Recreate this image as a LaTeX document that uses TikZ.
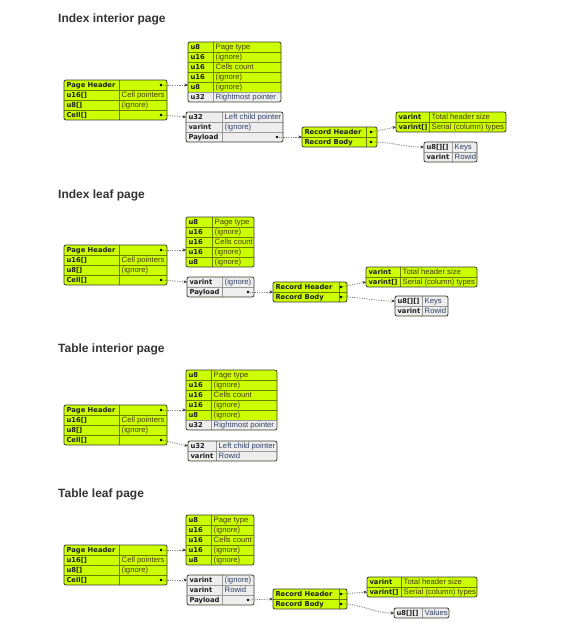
\documentclass[tikz,border=0pt]{standalone}
\usepackage{fontspec}
\usetikzlibrary{arrows.meta}
\newfontfamily\keyfont{DejaVu Sans Bold}
\newfontfamily\valfont{Liberation Sans}
\newfontfamily\headfont{Liberation Sans Bold}
\definecolor{gbg}{HTML}{CCFF00}
\definecolor{wbg}{HTML}{EEEEEE}
\definecolor{gtx}{HTML}{4A3A10}
\definecolor{wtx}{HTML}{2E3F66}
\definecolor{gln}{HTML}{6E7F00}
\definecolor{wln}{HTML}{9A9A9A}
\definecolor{edgec}{HTML}{3A3A2A}
\definecolor{linkc}{HTML}{808080}
\definecolor{titlec}{HTML}{333333}

\tikzset{
  x=1pt, y=-1pt,
  title/.style={font=\headfont\fontsize{12}{14}\selectfont, text=titlec, anchor=base west, inner sep=0},
  keytext/.style={font=\keyfont\fontsize{6.8}{7}\selectfont, text=black!88, anchor=base west, inner sep=0},
  valtext/.style={font=\valfont\fontsize{7.7}{8}\selectfont, anchor=base west, inner sep=0},
  rowcell/.style={inner sep=0, outer sep=0, minimum height=10pt},
  boxframe/.style={draw=edgec, line width=0.8pt, rounded corners=2pt},
  ptrdot/.style={fill=black, circle, inner sep=0, minimum size=2.8pt},
  link/.style={draw=linkc, line width=0.8pt, dash pattern=on 1.2pt off 1.2pt, shorten <=1.5pt,
    -{Stealth[length=3.5pt,width=3pt,color=black!80,fill=black!80]}}
}

% \recbox{name}{rows}{left x}{split x}{right x}{top y}{key/value/kind/pointer,...}
\newcommand\recbox[7]{%
  \pgfmathsetmacro\rbBot{#6+10*#2}%
  \pgfmathsetmacro\rbW{#5-#3}%
  \pgfmathsetmacro\rbH{10*#2}%
  \node[rowcell, minimum width=\rbW pt, minimum height=\rbH pt, anchor=north west] (#1) at (#3,#6) {};
  \begin{scope}
    \clip[rounded corners=2pt] (#3,#6) rectangle (#5,\rbBot);
    \foreach \lt/\rt/\kind/\ptr [count=\i] in {#7} {
      \pgfmathsetmacro\ya{#6+10*(\i-1)}
      \pgfmathsetmacro\ym{#6+10*\i-5}
      \path[fill=\kind bg] (#3,\ya) rectangle (#5,\ya+10);
      \node[rowcell, minimum width=\rbW pt, anchor=north west] (#1-\i) at (#3,\ya) {};
      \draw[draw=\kind ln, line width=0.6pt] (#4,\ya) -- (#4,\ya+10);
      \ifnum\i>1 \draw[draw=\kind ln, line width=0.6pt] (#3,\ya) -- (#5,\ya); \fi
      \node[keytext] at (#3+2.3,\ym+2.5) {\lt};
      \node[valtext, text=\kind tx] at (#4+2.5,\ym+2.7) {\rt};
      \coordinate (#1-\i-p) at (#5-6,\ym);
      \ifnum\ptr=1 \node[ptrdot] at (#1-\i-p) {}; \fi
    }
  \end{scope}
  \draw[boxframe] (#3,#6) rectangle (#5,\rbBot);
}

\begin{document}
\begin{tikzpicture}
\useasboundingbox[fill=white] (0,0) rectangle (566,629);

% ---------------- Index interior page ----------------
\node[title] (t1) at (58,23) {Index interior page};
\recbox{ph1}{4}{64}{119}{167}{80}{Page Header//g/1, u16[]/Cell pointers/g/0, u8[]/(ignore)/g/0, Cell[]//g/1}
\recbox{hd1}{6}{188}{213}{281}{42}{u8/Page type/g/0, u16/(ignore)/g/0, u16/Cells count/g/0, u16/(ignore)/g/0, u8/(ignore)/g/0, u32/Rightmost pointer/w/0}
\recbox{cl1}{3}{186}{222}{283}{112}{u32/Left child pointer/w/0, varint/(ignore)/w/0, Payload//w/1}
\recbox{rc1}{2}{302}{366}{377}{127}{Record Header//g/1, Record Body//g/1}
\recbox{sh1}{2}{396}{429}{506}{112}{varint/Total header size/g/0, varint[]/Serial (column) types/g/0}
\recbox{ky1}{2}{424}{452}{477}{142}{u8[][]/Keys/w/0, varint/Rowid/w/0}
\draw[link] (ph1-1-p) -- (hd1.west |- ph1-1-p);
\draw[link] (ph1-4-p) -- (cl1-1.west);
\draw[link] (cl1-3-p) -- (rc1.west);
\draw[link] (rc1-1-p) -- (sh1-2.west);
\draw[link] (rc1-2-p) to[out=0,in=180] (ky1-1.west);

% ---------------- Index leaf page ----------------
\node[title] (t2) at (58,198) {Index leaf page};
\recbox{ph2}{4}{64}{119}{167}{245}{Page Header//g/1, u16[]/Cell pointers/g/0, u8[]/(ignore)/g/0, Cell[]//g/1}
\recbox{hd2}{5}{186}{212}{254}{217}{u8/Page type/g/0, u16/(ignore)/g/0, u16/Cells count/g/0, u16/(ignore)/g/0, u8/(ignore)/g/0}
\recbox{cl2}{2}{187}{222}{254}{277}{varint/(ignore)/w/0, Payload//w/1}
\recbox{rc2}{2}{273}{339}{347}{282}{Record Header//g/1, Record Body//g/1}
\recbox{sh2}{2}{366}{400}{477}{267}{varint/Total header size/g/0, varint[]/Serial (column) types/g/0}
\recbox{ky2}{2}{395}{422}{448}{296}{u8[][]/Keys/w/0, varint/Rowid/w/0}
\draw[link] (ph2-1-p) -- (hd2.west |- ph2-1-p);
\draw[link] (ph2-4-p) -- (cl2-1.west);
\draw[link] (cl2-2-p) -- (rc2.west);
\draw[link] (rc2-1-p) -- (sh2-2.west);
\draw[link] (rc2-2-p) to[out=0,in=180] (ky2-1.west);

% ---------------- Table interior page ----------------
\node[title] (t3) at (58,352) {Table interior page};
\recbox{ph3}{4}{64}{119}{167}{405}{Page Header//g/1, u16[]/Cell pointers/g/0, u8[]/(ignore)/g/0, Cell[]//g/1}
\recbox{hd3}{6}{186}{211}{277}{370}{u8/Page type/g/0, u16/(ignore)/g/0, u16/Cells count/g/0, u16/(ignore)/g/0, u8/(ignore)/g/0, u32/Rightmost pointer/w/0}
\recbox{cl3}{2}{188}{216}{277}{441}{u32/Left child pointer/w/0, varint/Rowid/w/0}
\draw[link] (ph3-1-p) -- (hd3.west |- ph3-1-p);
\draw[link] (ph3-4-p) -- (cl3-1.west);

% ---------------- Table leaf page ----------------
\node[title] (t4) at (58,497) {Table leaf page};
\recbox{ph4}{4}{64}{119}{167}{545}{Page Header//g/1, u16[]/Cell pointers/g/0, u8[]/(ignore)/g/0, Cell[]//g/1}
\recbox{hd4}{5}{186}{211}{254}{515}{u8/Page type/g/0, u16/(ignore)/g/0, u16/Cells count/g/0, u16/(ignore)/g/0, u8/(ignore)/g/0}
\recbox{cl4}{3}{187}{222}{254}{575}{varint/(ignore)/w/0, varint/Rowid/w/0, Payload//w/1}
\recbox{rc4}{2}{273}{339}{347}{589}{Record Header//g/1, Record Body//g/1}
\recbox{sh4}{2}{367}{401}{477}{577}{varint/Total header size/g/0, varint[]/Serial (column) types/g/0}
\recbox{vl4}{1}{394}{422}{449}{608}{u8[][]/Values/w/0}
\draw[link] (ph4-1-p) -- (hd4.west |- ph4-1-p);
\draw[link] (ph4-4-p) -- (cl4-1.west);
\draw[link] (cl4-3-p) -- (rc4.west);
\draw[link] (rc4-1-p) -- (sh4-2.west);
\draw[link] (rc4-2-p) to[out=0,in=180] (vl4-1.west);
\end{tikzpicture}
\end{document}
